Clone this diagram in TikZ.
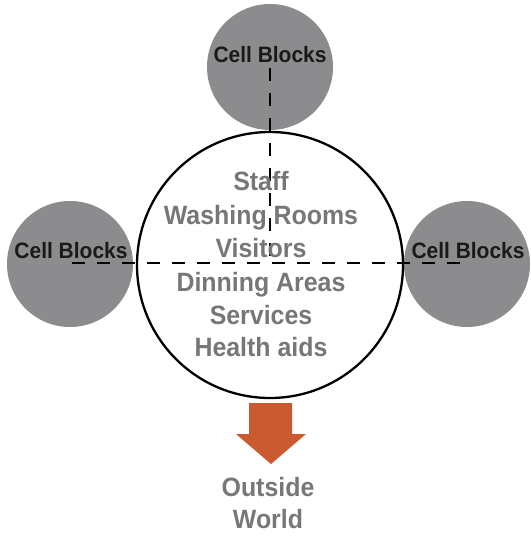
\documentclass[tikz,border=0pt]{standalone}
\usepackage{fontspec}
\newfontfamily\labfont[FakeStretch=0.94]{Liberation Sans}
\definecolor{cellgray}{HTML}{8C8C8E}
\definecolor{txtgray}{HTML}{777777}
\definecolor{arroworange}{HTML}{CC5A30}
\definecolor{celltext}{HTML}{1A1A1A}
\begin{document}
\begin{tikzpicture}[x=1pt,y=-1pt,
  cell/.style={circle,fill=cellgray,minimum size=126pt,inner sep=0pt},
  celllabel/.style={anchor=base,text=celltext,font=\labfont\bfseries\fontsize{22.3}{24}\selectfont,inner sep=0pt},
  hublabel/.style={anchor=base,text=txtgray,font=\labfont\bfseries\fontsize{26.5}{30}\selectfont,inner sep=0pt},
  dashline/.style={line width=2.3pt,dash pattern=on 13pt off 12pt}]
\useasboundingbox (0,0) rectangle (530,537);
% cell circles
\node[cell] (ctop) at (270,67) {};
\node[cell] (cleft) at (70,264) {};
\node[cell] (cright) at (467,264) {};
% hub
\node[circle,draw=black,line width=2.3pt,fill=white,minimum size=266pt,inner sep=0pt] (hub) at (270,265) {};
% dashed lines
\coordinate (cross) at (270,263);
\coordinate (hl) at (72,263);
\coordinate (hr) at (467,263);
\draw[dashline] (ctop.center) ++(0,1) -- (cross);
\draw[dashline] (hl) -- (hr);
% cell labels
\node[celllabel] (ltop) at (270,63) {Cell Blocks};
\node[celllabel] (lleft) at (71,258) {Cell Blocks};
\node[celllabel] (lright) at (468,258) {Cell Blocks};
% hub labels
\node[hublabel] (t1) at (261,191) {Staff};
\node[hublabel] (t2) at (261,224) {Washing Rooms};
\node[hublabel] (t3) at (261,257) {Visitors};
\node[hublabel] (t4) at (261,291) {Dinning Areas};
\node[hublabel] (t5) at (261,324) {Services};
\node[hublabel] (t6) at (261,356) {Health aids};
% arrow
\coordinate (atop) at (270,403);
\fill[arroworange] (249,403) -- (292,403) -- (292,434) -- (306,434) -- (271,464) -- (236,434) -- (249,434) -- cycle;
\node[hublabel] (o1) at (268,496) {Outside};
\node[hublabel] (o2) at (268,528) {World};
\end{tikzpicture}
\end{document}
